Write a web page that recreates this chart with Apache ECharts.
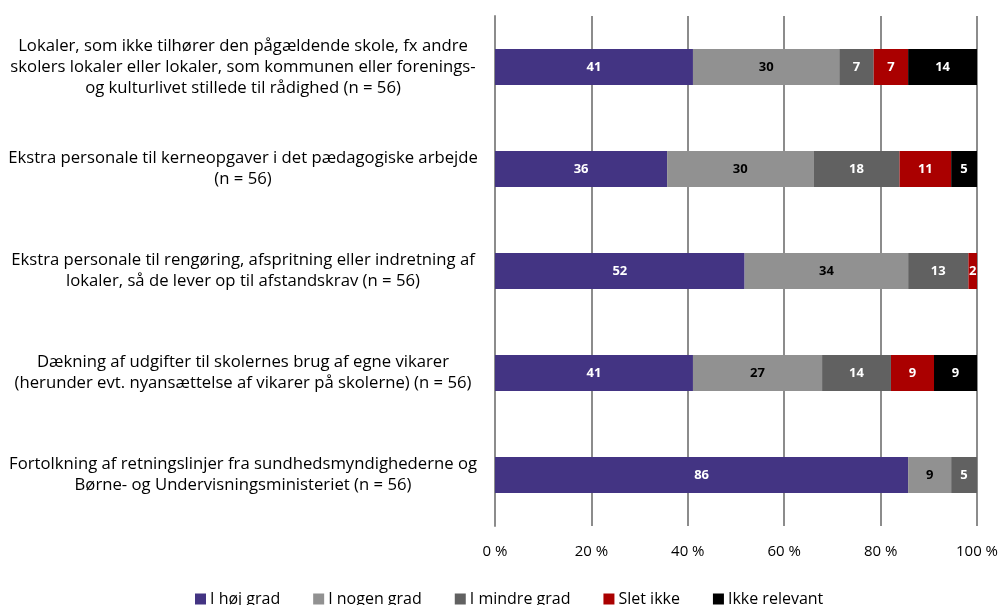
<!DOCTYPE html>
<html>
<head>
<meta charset="utf-8">
<script src="https://cdn.jsdelivr.net/npm/echarts@6/dist/echarts.min.js"></script>
<style>html,body{margin:0;padding:0;background:#fff}#c{width:1003px;height:605px}</style>
</head>
<body>
<div id="c"></div>
<script>
const categories = [
  "Lokaler, som ikke tilhører den pågældende skole, fx andre\nskolers lokaler eller lokaler, som kommunen eller forenings-\nog kulturlivet stillede til rådighed (n = 56)",
  "Ekstra personale til kerneopgaver i det pædagogiske arbejde\n(n = 56)",
  "Ekstra personale til rengøring, afspritning eller indretning af\nlokaler, så de lever op til afstandskrav (n = 56)",
  "Dækning af udgifter til skolernes brug af egne vikarer\n(herunder evt. nyansættelse af vikarer på skolerne) (n = 56)",
  "Fortolkning af retningslinjer fra sundhedsmyndighederne og\nBørne- og Undervisningsministeriet (n = 56)"
];
const seriesNames = ["I høj grad", "I nogen grad", "I mindre grad", "Slet ikke", "Ikke relevant"];
const iHoejGrad    = [41.07, 35.71, 51.79, 41.07, 85.71];
const iNogenGrad   = [30.36, 30.36, 33.93, 26.79, 8.93];
const iMindreGrad  = [7.14, 17.86, 12.5, 14.29, 5.36];
const sletIkke     = [7.14, 10.71, 1.79, 8.93, 0];
const ikkeRelevant = [14.29, 5.36, 0, 8.93, 0];
const xTicks = [0, 20, 40, 60, 80, 100];

const values = [iHoejGrad, iNogenGrad, iMindreGrad, sletIkke, ikkeRelevant];
const colors = ["#433483", "#919191", "#616161", "#AA0000", "#000000"];
const labelColors = ["#ffffff", "#000000", "#ffffff", "#ffffff", "#ffffff"];
const FONT = "Open Sans";

const chart = echarts.init(document.getElementById('c'));
chart.setOption({
  animation: false,
  textStyle: { fontFamily: FONT },
  grid: { left: 495, right: 26, top: 16, bottom: 79, containLabel: false },
  legend: {
    bottom: -7, left: 190,
    itemWidth: 11, itemHeight: 11, itemGap: 33,
    icon: 'rect',
    textStyle: { fontFamily: FONT, fontSize: 16, color: '#000', padding: [0, 0, 0, -1] },
    data: seriesNames
  },
  xAxis: {
    type: 'value', min: 0, max: 100, interval: 20,
    axisLine: { show: false }, axisTick: { show: false },
    splitLine: { show: true, lineStyle: { color: '#8c8c8c', width: 2 } },
    axisLabel: {
      fontFamily: FONT, fontSize: 15, color: '#000', margin: 18,
      formatter: v => xTicks.includes(v) ? v + ' %' : ''
    }
  },
  yAxis: {
    type: 'category', inverse: true, data: categories,
    axisLine: { show: true, lineStyle: { color: '#8c8c8c', width: 2 } },
    axisTick: { show: false },
    axisLabel: {
      fontFamily: FONT, fontSize: 16.7, color: '#000', align: 'center',
      margin: 252, lineHeight: 21
    }
  },
  series: values.map((arr, i) => ({
    name: seriesNames[i], type: 'bar', stack: 'total', barWidth: 36,
    data: arr,
    itemStyle: { color: colors[i] },
    label: {
      show: true, position: 'inside', fontFamily: FONT, fontSize: 13, fontWeight: 'bold',
      color: labelColors[i],
      formatter: p => p.value > 0 ? Math.round(p.value) : ''
    }
  }))
});
</script>
</body>
</html>
